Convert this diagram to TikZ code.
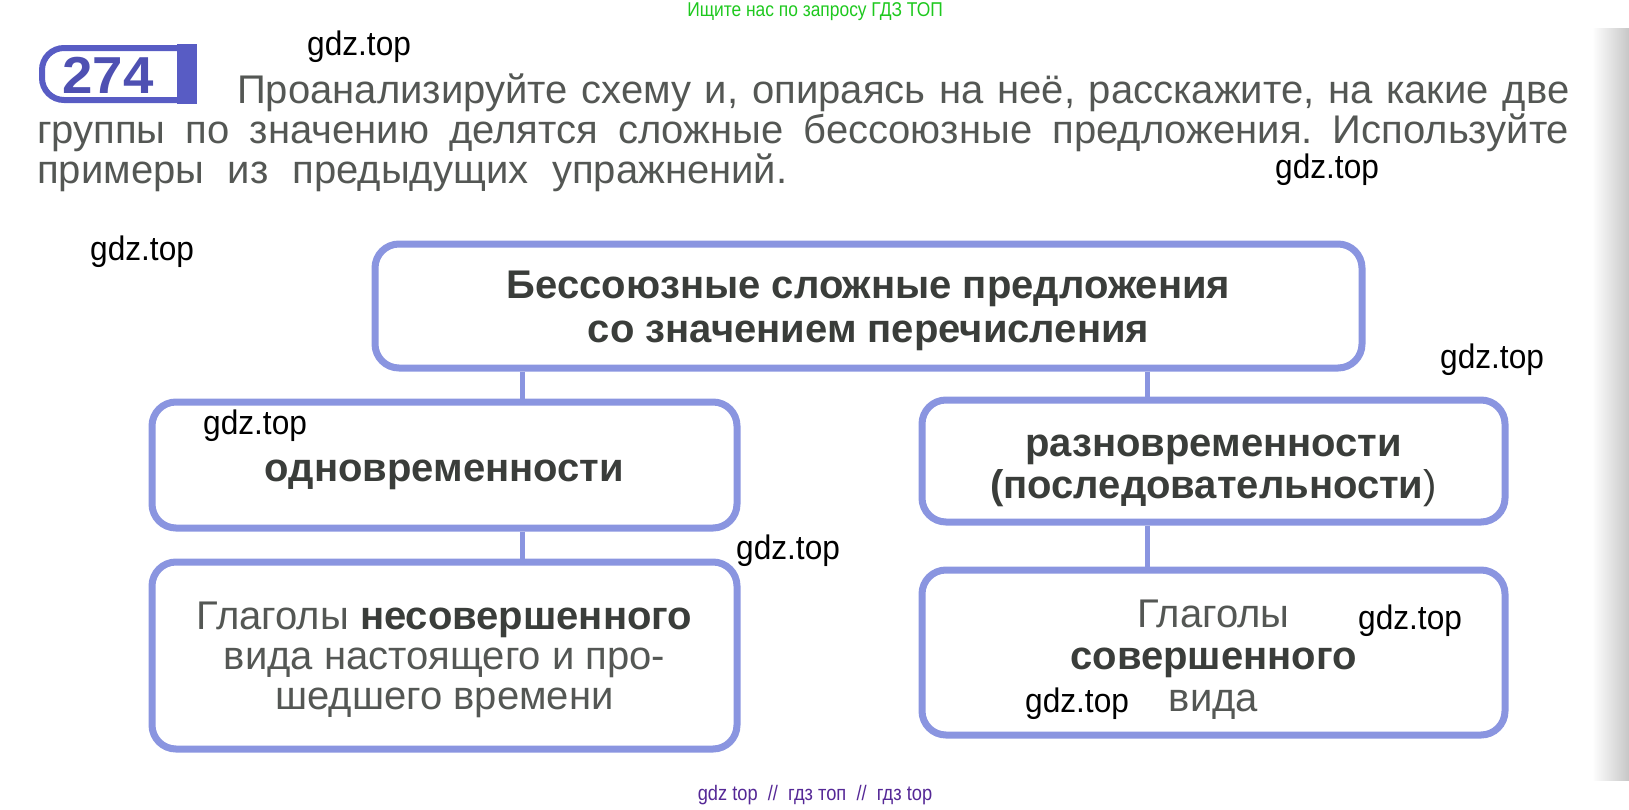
\documentclass[tikz,border=0pt]{standalone}
\usepackage{fontspec}
\setmainfont{Liberation Sans}
\newfontfamily\narrowfont[FakeStretch=0.87]{Liberation Sans}
\newfontfamily\tallfont[FakeStretch=0.93]{Liberation Sans}
\newfontfamily\widefont[FakeStretch=1.05]{Liberation Sans}
\newcommand\lift[1]{\rule{0pt}{#1}}
\definecolor{boxline}{RGB}{138,149,224}
\definecolor{textgray}{RGB}{84,87,84}
\definecolor{boldgray}{RGB}{58,61,58}
\definecolor{badgeblue}{RGB}{88,92,196}
\definecolor{numblue}{RGB}{78,80,178}
\definecolor{topgreen}{RGB}{30,200,30}
\definecolor{botpurple}{RGB}{85,40,150}
\frenchspacing
\begin{document}
\begin{tikzpicture}[x=1pt,y=-1pt,inner sep=0pt,
	schema/.style={draw=boxline,fill=white,line width=7pt,rounded corners=24pt,align=center,
		font=\fontsize{40}{40}\selectfont,text=textgray},
	heavy/.style={font=\bfseries\fontsize{40}{#1}\selectfont,text=boldgray},
	task/.style={anchor=base west,font=\fontsize{40}{40}\selectfont,text=textgray},
	wm/.style={anchor=west,font=\tallfont\fontsize{34}{36}\selectfont,text=black},
	link/.style={draw=boxline,line width=5pt}]
	
	\useasboundingbox (0,0) rectangle (1629,809);
	\shade[left color=white,right color=black!22] (1592,28) rectangle (1629,780);
	
	\node[font=\narrowfont\fontsize{20}{22}\selectfont,text=topgreen] (ask) at (815,12) {Ищите нас по запросу ГДЗ ТОП};
	
	% number of the task
	\draw[badgeblue,line width=6pt,rounded corners=22pt] (180,48) -- (42,48) -- (42,100) -- (180,100);
	\fill[badgeblue] (177,44) rectangle (197,104);
	\node[font=\widefont\bfseries\fontsize{52}{52}\selectfont,text=numblue] (num) at (108,75) {274};
	
	\node[task] (line 1) at (237,103) {\makebox[1332pt][s]{Проанализируйте схему и, опираясь на неё, расскажите, на какие две}};
	\node[task] (line 2) at (37,143) {\makebox[1532pt][s]{группы по значению делятся сложные бессоюзные предложения. Используйте}};
	\node[task] (line 3) at (37,183) {\makebox[750pt][s]{примеры из предыдущих упражнений.}};
	
	% the scheme
	\node[schema,heavy=44,minimum width=987pt,minimum height=124pt] (kinds) at (868.5,306) {\lift{38pt}Бессоюзные сложные предложения\\со значением перечисления};
	\node[schema,heavy=40,minimum width=585pt,minimum height=126pt] (same) at (444.5,465) {\lift{42pt}одновременности};
	\node[schema,heavy=42,minimum width=583pt,minimum height=122pt] (diff) at (1213.5,461) {\lift{42pt}разновременности\\(последовательности{\mdseries)}};
	\node[schema,minimum width=585pt,minimum height=187pt] (impf) at (444.5,655.5) {\lift{36pt}Глаголы \textcolor{boldgray}{\bfseries несовершенного}\\вида настоящего и про-\\шедшего времени};
	\node[schema,font=\fontsize{40}{42}\selectfont,minimum width=583pt,minimum height=165pt] (perf) at (1213.5,652.5) {\lift{42pt}Глаголы\\\textcolor{boldgray}{\bfseries совершенного}\\вида};
	
	\coordinate (left stem) at (522,0);
	\coordinate (right stem) at (1147,0);
	\draw[link] (kinds.south -| left stem) -- (same.north -| left stem);
	\draw[link] (kinds.south -| right stem) -- (diff.north -| right stem);
	\draw[link] (same.south -| left stem) -- (impf.north -| left stem);
	\draw[link] (diff.south -| right stem) -- (perf.north -| right stem);
	
	\foreach [count=\n] \p in {(307,47),(1275,170),(90,252),(1440,360),(203,426),(736,551),(1358,621),(1025,704)}
		\node[wm] (wm \n) at \p {gdz.top};
	
	\node[font=\narrowfont\fontsize{21}{23}\selectfont,text=botpurple] (sites) at (815,795) {gdz top \ // \ гдз топ \ // \ гдз top};
	
\end{tikzpicture}
\end{document}
